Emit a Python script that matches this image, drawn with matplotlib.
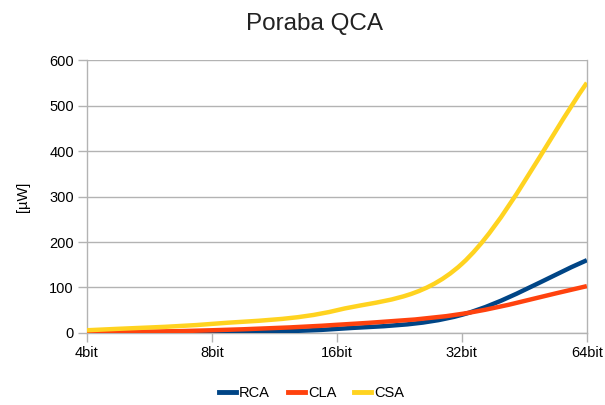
import numpy as np
import matplotlib.pyplot as plt
from matplotlib.path import Path
from matplotlib.patches import PathPatch
from matplotlib.lines import Line2D

plt.rcParams['font.family'] = ['Liberation Sans', 'DejaVu Sans']

# Poraba moči po širini seštevalnika
bitne_sirine = ['4bit', '8bit', '16bit', '32bit', '64bit']
rca = [0.3, 1.5, 9, 40, 160]
cla = [1, 6, 18, 42, 103]
csa = [6, 20, 50, 152, 550]

barve = {'RCA': '#004586', 'CLA': '#ff420e', 'CSA': '#ffd320'}


def gladka_pot(x, y):
    # kubične Bézierove krivulje skozi točke (Catmull-Rom)
    x = np.asarray(x, float)
    y = np.asarray(y, float)
    n = len(x)
    dy = np.empty(n)
    dy[1:-1] = (y[2:] - y[:-2]) / 2
    dy[0] = y[1] - y[0]
    dy[-1] = y[-1] - y[-2]
    verts = [(x[0], y[0])]
    codes = [Path.MOVETO]
    for i in range(n - 1):
        verts += [(x[i] + 1 / 3, y[i] + dy[i] / 3),
                  (x[i + 1] - 1 / 3, y[i + 1] - dy[i + 1] / 3),
                  (x[i + 1], y[i + 1])]
        codes += [Path.CURVE4] * 3
    return Path(verts, codes)


fig = plt.figure(figsize=(6.05, 4.05), dpi=100)
ax = fig.add_axes([0.1438, 0.1778, 0.8262, 0.674])

x = np.arange(len(bitne_sirine))
for ime, vrednosti in [('RCA', rca), ('CLA', cla), ('CSA', csa)]:
    ax.add_patch(PathPatch(gladka_pot(x, vrednosti), fill=False,
                           edgecolor=barve[ime], lw=3.2, capstyle='butt',
                           joinstyle='round', zorder=3))

ax.set_xlim(0, len(bitne_sirine) - 1)
ax.set_ylim(0, 600)
ax.set_xticks(x)
ax.set_xticklabels(bitne_sirine)
ax.set_yticks(range(0, 601, 100))
ax.yaxis.grid(True, color='#b3b3b3', lw=1)
ax.set_axisbelow(True)

for s in ['left', 'right', 'bottom']:
    ax.spines[s].set_color('#b3b3b3')
    ax.spines[s].set_linewidth(1)
ax.spines['top'].set_visible(False)
ax.tick_params(colors='#b3b3b3', labelcolor='black', length=6.5, width=1,
               labelsize=10.5, pad=3)

ax.set_ylabel('[µW]', fontsize=10.5, labelpad=14)
fig.text(0.52, 0.94, 'Poraba QCA', fontsize=17.5, ha='center', va='center',
         color='#222222')

rocaji = [Line2D([], [], color=barve[k], lw=3.5) for k in barve]
fig.legend(rocaji, list(barve), loc='center', bbox_to_anchor=(0.515, 0.03),
           ncol=3, frameon=False, fontsize=10.5, handlelength=1.2,
           handletextpad=0.2, columnspacing=1.2)

fig.savefig('out.png', dpi=100)
